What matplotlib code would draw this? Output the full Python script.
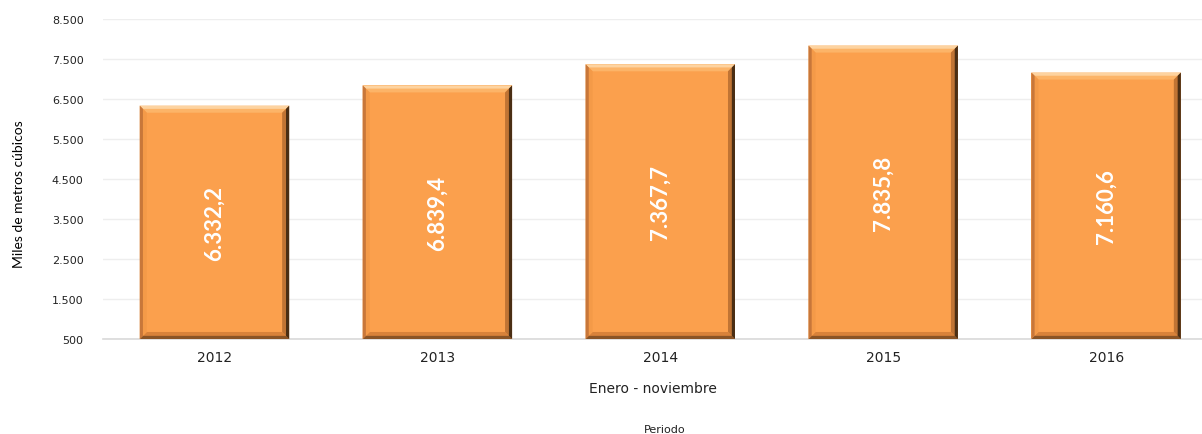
import matplotlib.pyplot as plt
import numpy as np
from matplotlib.patches import Polygon

# Datos
periodos = ["2012", "2013", "2014", "2015", "2016"]
valores = [6332.2, 6839.4, 7367.7, 7835.8, 7160.6]
etiquetas = ["6.332,2", "6.839,4", "7.367,7", "7.835,8", "7.160,6"]
yticks = [500, 1500, 2500, 3500, 4500, 5500, 6500, 7500, 8500]
ytick_labels = ["500", "1.500", "2.500", "3.500", "4.500", "5.500", "6.500", "7.500", "8.500"]

base = 500
ancho = 0.67

fig = plt.figure(figsize=(12.02, 4.35), dpi=100)
ax = fig.add_axes([0.0857, 0.2184, 0.9143, 0.7356])

x = np.arange(len(periodos))
barras = ax.bar(x, np.array(valores) - base, bottom=base, width=ancho,
                color="#FBA04D", edgecolor="none", zorder=2)

ax.set_xlim(-0.5, 4.43)
ax.set_ylim(500, 8500)
ax.set_yticks(yticks)
ax.set_yticklabels(ytick_labels, fontsize=8, color="#222222")
ax.set_xticks(x)
ax.set_xticklabels(periodos, fontsize=10, color="#222222")
ax.tick_params(axis="both", length=0)
ax.tick_params(axis="y", pad=14)
ax.tick_params(axis="x", pad=8)
ax.grid(axis="y", color="#EEEEEE", linewidth=1, zorder=0)
for s in ["top", "right", "left"]:
    ax.spines[s].set_visible(False)
ax.spines["bottom"].set_color("#D9D9D9")
ax.spines["bottom"].set_linewidth(1.2)

ax.set_xlabel("Enero - noviembre", fontsize=10, labelpad=12, color="#222222")
fig.text(0.553, 0.0, "Periodo", fontsize=8, ha="center", va="bottom", color="#222222")
fig.text(0.016, 0.553, "Miles de metros cúbicos", rotation=90, fontsize=10,
         family=["Lato", "DejaVu Sans"], ha="center", va="center")

# Efecto biselado en píxeles
fig.canvas.draw()
bv = 7
for b in barras:
    x0, y0 = ax.transData.transform((b.get_x(), b.get_y()))
    x1, y1 = ax.transData.transform((b.get_x() + b.get_width(), b.get_y() + b.get_height()))
    caras = [
        ([(x0, y1), (x1, y1), (x1 - bv, y1 - bv), (x0 + bv, y1 - bv)], ["#FDD3A0", "#FCB468"]),
        ([(x0, y0), (x1, y0), (x1 - bv, y0 + bv), (x0 + bv, y0 + bv)], ["#8A5426", "#D8823A"]),
        ([(x0, y0), (x0, y1), (x0 + bv, y1 - bv), (x0 + bv, y0 + bv)], ["#C8773A", "#F49A48"]),
        ([(x1, y0), (x1, y1), (x1 - bv, y1 - bv), (x1 - bv, y0 + bv)], ["#4A2E14", "#C07434"]),
    ]
    for pts, (c_ext, c_int) in caras:
        p = Polygon(pts, closed=True, transform=None, facecolor=c_int, edgecolor="none", zorder=3)
        fig.add_artist(p)
        # banda exterior más oscura/clara
        pts = np.array(pts)
        mid = pts.copy()
        mid[2] = pts[1] + (pts[2] - pts[1]) * 0.45
        mid[3] = pts[0] + (pts[3] - pts[0]) * 0.45
        p2 = Polygon(mid, closed=True, transform=None, facecolor=c_ext, edgecolor="none", zorder=3.1)
        fig.add_artist(p2)

for xi, v, et in zip(x, valores, etiquetas):
    ax.text(xi, (v + base) / 2, et, rotation=90, ha="center", va="center",
            color="white", fontsize=16, fontweight="bold",
            family=["Lato", "DejaVu Sans"], zorder=5)

fig.savefig("out.png", dpi=100)
